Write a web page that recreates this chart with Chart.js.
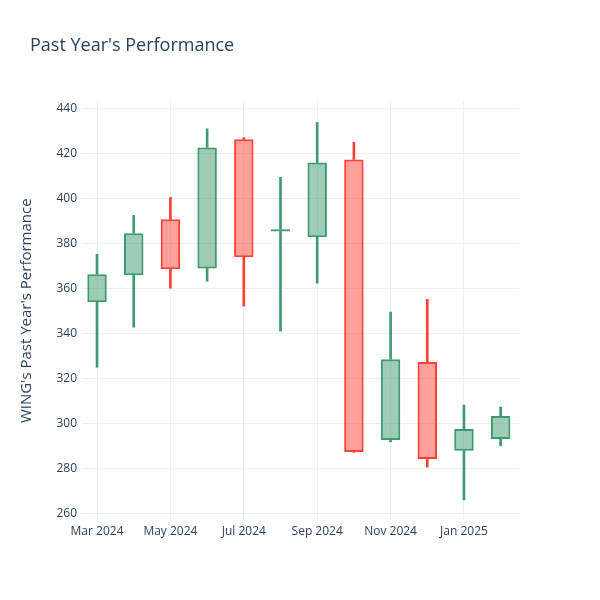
<!DOCTYPE html>
<html>
<head>
<meta charset="utf-8">
<script src="https://cdn.jsdelivr.net/npm/chart.js@4.4.1/dist/chart.umd.min.js"></script>
<style>
  html, body { margin: 0; padding: 0; background: #fff; }
  #wrap { position: relative; width: 600px; height: 600px; }
  #title {
    position: absolute; left: 30px; top: 33px;
    font: 18px "Open Sans", sans-serif; color: #2a3f5f; line-height: 22px;
  }
</style>
</head>
<body>
<div id="wrap">
  <div id="title">Past Year's Performance</div>
  <canvas id="chart" width="600" height="600"></canvas>
</div>
<script>
// monthly candles, Mar 2024 .. Feb 2025
var months = ['Mar 2024', 'Apr 2024', 'May 2024', 'Jun 2024', 'Jul 2024', 'Aug 2024',
              'Sep 2024', 'Oct 2024', 'Nov 2024', 'Dec 2024', 'Jan 2025', 'Feb 2025'];
var openVals  = [354.0, 366.0, 390.8, 369.0, 426.3, 385.4, 382.8, 417.4, 292.8, 327.4, 288.0, 293.3];
var highVals  = [375.3, 392.6, 400.5, 431.0, 427.1, 409.4, 433.8, 425.0, 349.6, 355.3, 308.3, 307.4];
var lowVals   = [325.2, 342.9, 360.2, 363.3, 352.2, 341.1, 362.4, 287.3, 292.0, 280.8, 266.2, 290.2];
var closeVals = [366.4, 384.6, 368.6, 422.7, 374.0, 386.4, 416.0, 287.5, 328.7, 284.4, 297.7, 303.5];

var UP = '#3D9970', UP_FILL = 'rgba(61,153,112,0.5)';
var DOWN = '#FF4136', DOWN_FILL = 'rgba(255,65,54,0.5)';
var TEXT = '#2a3f5f', GRID = '#EBF0F8';

var isUp = openVals.map(function(o, i) { return closeVals[i] >= o; });
var lineColors = isUp.map(function(u) { return u ? UP : DOWN; });
var fillColors = isUp.map(function(u) { return u ? UP_FILL : DOWN_FILL; });

var bodies = [], upperWicks = [], lowerWicks = [];
months.forEach(function(m, i) {
  var top = Math.max(openVals[i], closeVals[i]);
  var bot = Math.min(openVals[i], closeVals[i]);
  bodies.push({ x: i, y: [bot, top] });
  upperWicks.push({ x: i, y: [top, highVals[i]] });
  lowerWicks.push({ x: i, y: [lowVals[i], bot] });
});

Chart.defaults.font.family = '"Open Sans", sans-serif';
Chart.defaults.color = TEXT;

new Chart(document.getElementById('chart'), {
  type: 'bar',
  data: {
    datasets: [
      {
        data: bodies,
        backgroundColor: fillColors,
        borderColor: lineColors,
        borderWidth: 2,
        borderSkipped: false,
        barPercentage: 0.53,
        categoryPercentage: 1,
        grouped: false,
        order: 1
      },
      {
        data: upperWicks,
        backgroundColor: lineColors,
        borderWidth: 0,
        barThickness: 2,
        grouped: false,
        order: 2
      },
      {
        data: lowerWicks,
        backgroundColor: lineColors,
        borderWidth: 0,
        barThickness: 2,
        grouped: false,
        order: 2
      }
    ]
  },
  options: {
    responsive: false,
    animation: false,
    layout: { padding: { top: 101.5, right: 81, bottom: 0, left: 0 } },
    plugins: { legend: { display: false }, tooltip: { enabled: false }, title: { display: false } },
    scales: {
      x: {
        type: 'linear',
        min: -0.41,
        max: 11.5,
        offset: false,
        afterFit: function(scale) { scale.height = 80; },
        grid: { color: GRID, drawTicks: false, offset: false },
        border: { display: false },
        ticks: {
          stepSize: 2,
          includeBounds: false,
          padding: 4,
          maxRotation: 0,
          autoSkip: false,
          color: TEXT,
          font: { size: 12 },
          callback: function(v) { return Number.isInteger(v) ? months[v] : ''; }
        }
      },
      y: {
        min: 257.3,
        max: 443.1,
        afterFit: function(scale) { scale.width = 82; },
        grid: { color: GRID, drawTicks: false },
        border: { display: false },
        ticks: {
          stepSize: 20,
          includeBounds: false,
          padding: 5,
          color: TEXT,
          font: { size: 12 }
        },
        title: {
          display: true,
          text: "WING's Past Year's Performance",
          color: TEXT,
          font: { size: 15 },
          padding: { top: 18, bottom: 0 }
        }
      }
    }
  }
});
</script>
</body>
</html>
